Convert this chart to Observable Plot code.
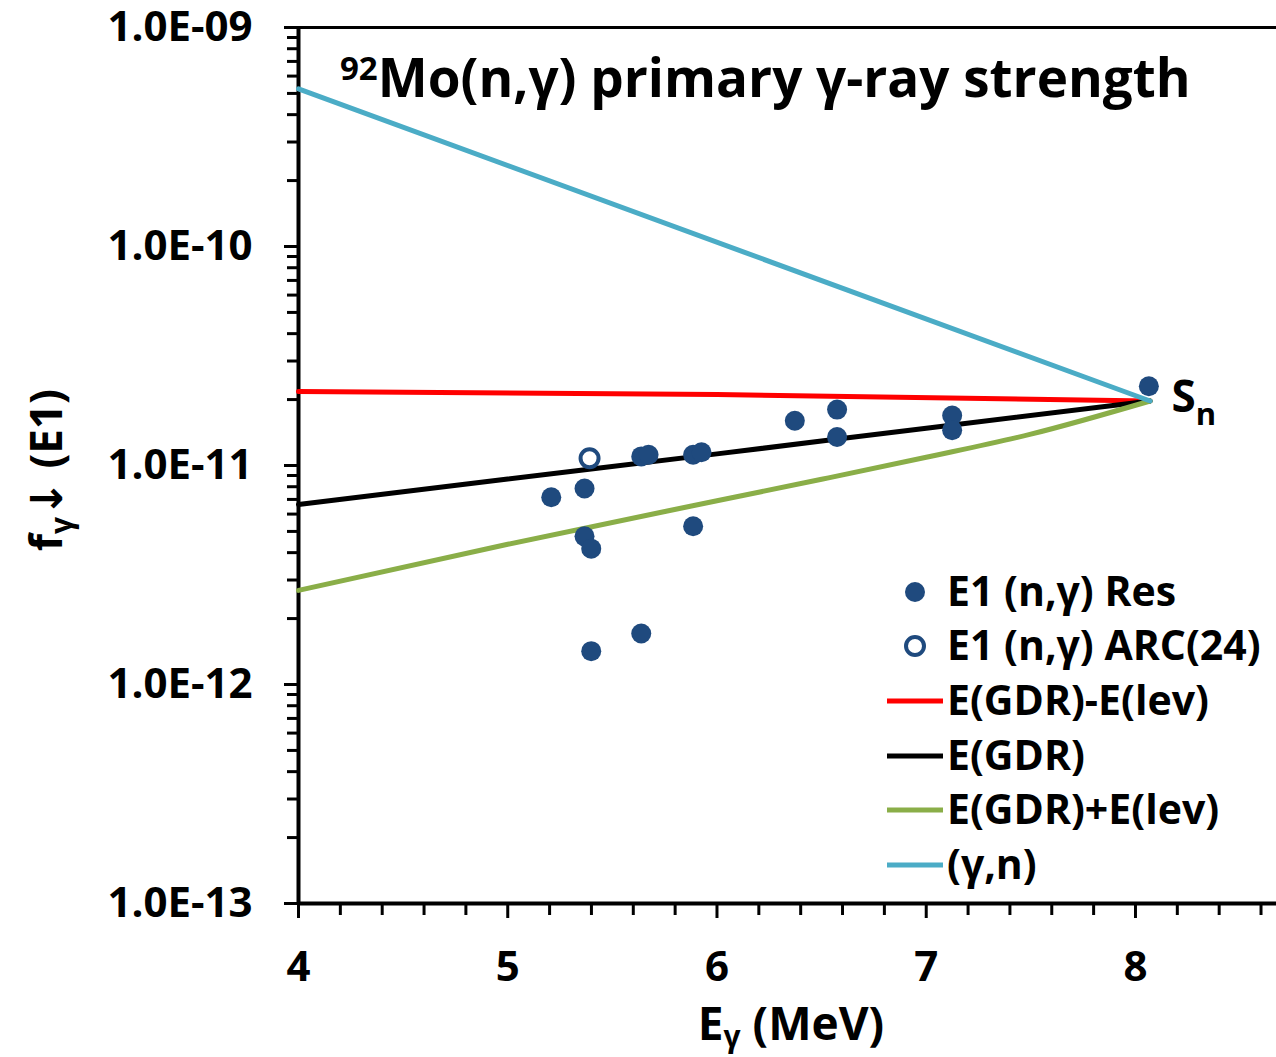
<!DOCTYPE html>
<html>
<head>
<meta charset="utf-8">
<script src="https://cdn.jsdelivr.net/npm/d3@7"></script>
<script src="https://cdn.jsdelivr.net/npm/@observablehq/plot@0.6"></script>
<style>
  body { margin: 0; background: #fff; }
  #wrap { position: relative; width: 1276px; height: 1057px; }
  svg text { font-family: "Open Sans", sans-serif; font-weight: bold; }
</style>
</head>
<body>
<div id="wrap"></div>
<script>
// ---- Data ----
// E1 (n,γ) resonance strengths
const resE = [5.208, 5.367, 5.367, 5.399, 5.399, 5.638, 5.638, 5.673, 5.886, 5.886, 5.926, 6.372, 6.574, 6.574, 7.124, 7.124, 8.064];
const resF = [7.16e-12, 7.85e-12, 4.75e-12, 4.17e-12, 1.42e-12, 1.71e-12, 1.10e-11, 1.12e-11, 5.28e-12, 1.12e-11, 1.15e-11, 1.60e-11, 1.80e-11, 1.35e-11, 1.69e-11, 1.45e-11, 2.30e-11];
// E1 (n,γ) ARC(24)
const arcE = [5.391];
const arcF = [1.08e-11];
// Model curves
const redE = [4, 6, 8.07];
const redF = [2.18e-11, 2.11e-11, 1.97e-11];          // E(GDR)-E(lev)
const blackE = [4, 5, 6, 7, 8.07];
const blackF = [6.64e-12, 8.67e-12, 1.13e-11, 1.48e-11, 1.97e-11]; // E(GDR)
const greenE = [4, 5, 6, 6.5, 7, 7.5, 8.07];
const greenF = [2.69e-12, 4.37e-12, 6.9e-12, 8.65e-12, 1.09e-11, 1.39e-11, 1.97e-11]; // E(GDR)+E(lev)
const cyanE = [4, 8.07];
const cyanF = [5.25e-10, 1.97e-11];                   // (γ,n)
// Neutron separation energy point
const snE = [8.07];
const snF = [1.97e-11];
// Axis ticks
const majorX = [4, 5, 6, 7, 8];
const majorY = [1e-13, 1e-12, 1e-11, 1e-10, 1e-9];
const legendLabels = ["E1 (n,γ) Res", "E1 (n,γ) ARC(24)", "E(GDR)-E(lev)", "E(GDR)", "E(GDR)+E(lev)", "(γ,n)"];

// ---- Styles ----
const dotColor = "#1f4a7e";
const colors = { red: "#ff0000", black: "#000000", green: "#8aae48", cyan: "#4bacc6" };

const minorX = d3.range(42, 87, 2).map(v => v / 10).filter(v => !Number.isInteger(v));
const minorY = [];
for (let k = -13; k < -9; k++) for (let m = 2; m <= 9; m++) minorY.push(m * Math.pow(10, k));
const fmtE = d => {
  const e = Math.round(Math.log10(d));
  return "1.0E" + (e < 0 ? "-" : "+") + String(Math.abs(e)).padStart(2, "0");
};

const plot = Plot.plot({
  width: 1276,
  height: 1057,
  marginLeft: 298,
  marginTop: 27,
  marginBottom: 154,
  marginRight: 0,
  x: { domain: [4, 8.674] },
  y: { type: "log", domain: [1e-13, 1e-9] },
  style: { fontFamily: "Open Sans, sans-serif", fontWeight: "bold", fontSize: "42px", color: "#000", background: "#fff" },
  marks: [
    Plot.axisX({ ticks: minorX, tickSize: 12, tickFormat: () => "", strokeWidth: 3, label: null }),
    Plot.axisX({ ticks: majorX, tickSize: 15, tickPadding: 33, tickFormat: d => String(d), strokeWidth: 3, fontSize: 42, label: null }),
    Plot.axisY({ ticks: minorY, tickSize: 11, tickFormat: () => "", strokeWidth: 3, label: null }),
    Plot.axisY({ ticks: majorY, tickSize: 14, tickPadding: 32, tickFormat: fmtE, strokeWidth: 3, fontSize: 42, label: null }),
    Plot.ruleX([4], { strokeWidth: 4 }),
    Plot.ruleY([1e-13], { strokeWidth: 4 }),
    Plot.ruleY([1e-9], { strokeWidth: 3 }),
    Plot.line(redF, { x: redE, y: d => d, stroke: colors.red, strokeWidth: 5, curve: "monotone-x" }),
    Plot.line(blackF, { x: blackE, y: d => d, stroke: colors.black, strokeWidth: 5, curve: "monotone-x" }),
    Plot.line(greenF, { x: greenE, y: d => d, stroke: colors.green, strokeWidth: 5, curve: "monotone-x" }),
    Plot.line(cyanF, { x: cyanE, y: d => d, stroke: colors.cyan, strokeWidth: 5 }),
    Plot.dot(resF, { x: resE, y: d => d, r: 10, fill: dotColor, stroke: null }),
    Plot.dot(arcF, { x: arcE, y: d => d, r: 9, fill: "white", stroke: dotColor, strokeWidth: 4 })
  ]
});

document.getElementById("wrap").appendChild(plot);

const svg = d3.select(plot);
const sx = plot.scale("x"), sy = plot.scale("y");
const g = svg.append("g").attr("fill", "#000").attr("text-anchor", "start");

// Title
const title = g.append("text").attr("x", 340).attr("y", 97).attr("font-size", 53).attr("text-anchor", "start");
title.append("tspan").attr("font-size", 33).attr("dy", -17).text("92");
title.append("tspan").attr("font-size", 53).attr("dy", 17).text("Mo(n,γ) primary γ-ray strength");

// Sn label anchored at the convergence point
const snx = sx.apply(snE[0]), sny = sy.apply(snF[0]);
const sn = g.append("text").attr("x", snx + 22).attr("y", sny + 11).attr("font-size", 44).attr("text-anchor", "start");
sn.append("tspan").text("S");
sn.append("tspan").attr("font-size", 31).attr("dy", 13).text("n");

// X axis title
const xt = g.append("text").attr("x", 791).attr("y", 1040).attr("text-anchor", "middle").attr("font-size", 46);
xt.append("tspan").text("E");
xt.append("tspan").attr("font-size", 30).attr("dy", 7).text("γ");
xt.append("tspan").attr("dy", -7).text(" (MeV)");

// Y axis title
const yt = g.append("text").attr("transform", "translate(62,470) rotate(-90)").attr("text-anchor", "middle").attr("font-size", 44);
yt.append("tspan").text("f");
yt.append("tspan").attr("font-size", 30).attr("dy", 10).text("γ");
yt.append("tspan").attr("dy", -10).attr("font-family", "DejaVu Sans").text("↓");
yt.append("tspan").text(" (E1)");

// Legend
const lg = svg.append("g").attr("text-anchor", "start");
const rowY = [592, 646, 701, 756, 810, 865];
const swatches = [
  { type: "dot" }, { type: "open" },
  { type: "line", c: colors.red }, { type: "line", c: colors.black },
  { type: "line", c: colors.green }, { type: "line", c: colors.cyan }
];
swatches.forEach((s, i) => {
  const y = rowY[i];
  if (s.type === "dot") lg.append("circle").attr("cx", 915).attr("cy", y).attr("r", 10).attr("fill", dotColor);
  else if (s.type === "open") lg.append("circle").attr("cx", 915).attr("cy", y).attr("r", 9).attr("fill", "white").attr("stroke", dotColor).attr("stroke-width", 4);
  else lg.append("line").attr("x1", 887).attr("x2", 943).attr("y1", y).attr("y2", y).attr("stroke", s.c).attr("stroke-width", 5);
  lg.append("text").attr("x", 947).attr("y", y + 14).attr("font-size", 41).attr("text-anchor", "start").text(legendLabels[i]);
});
</script>
</body>
</html>
